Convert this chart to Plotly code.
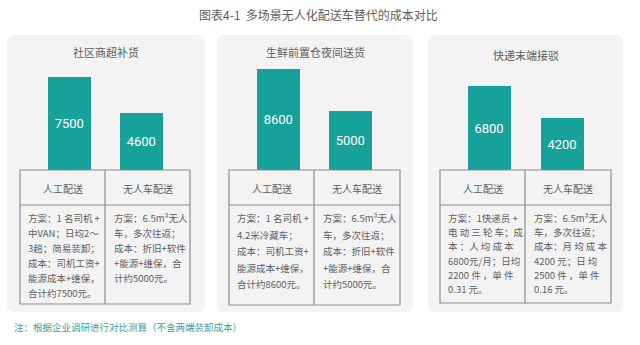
import plotly.graph_objects as go

W, H = 640, 345

# ---------------- data ----------------
title = "图表4-1  多场景无人化配送车替代的成本对比"
footnote = "注：根据企业调研进行对比测算（不含两端装卸成本）"
scenarios = ["社区商超补货", "生鲜前置仓夜间送货", "快递末端接驳"]
modes = ["人工配送", "无人车配送"]
manual_cost = [7500, 8600, 6800]
robot_cost = [4600, 5000, 4200]
manual_notes = [
    ["方案：1 名司机 +", "中VAN；日均2～", "3趟；简易装卸；", "成本：司机工资+", "能源成本+维保，", "合计约7500元。"],
    ["方案：1 名司机 +", "4.2米冷藏车；", "成本：司机工资+", "能源成本+维保，", "合计约8600元。"],
    ["方案：1快递员 +", "电 动 三 轮 车；成", "本 ：人 均 成 本", "6800元/月；日均", "2200 件 ，单 件", "0.31 元。"],
]
robot_notes = [
    ["方案：6.5m³无人", "车，多次往返；", "成本：折旧+软件", "+能源+维保，合", "计约5000元。"],
    ["方案：6.5m³无人", "车，多次往返；", "成本：折旧+软件", "+能源+维保，合", "计约5000元。"],
    ["方案：6.5m³无人", "车，多次往返；", "成本：月 均 成 本", "4200 元；日 均", "2500 件 ，单 件", "0.16 元。"],
]

# ---------------- layout geometry (pixels) ----------------
FONT = "Noto Sans CJK SC"
NUM_FONT = "Roboto"
BAR_COLOR = "#17a19b"
TEXT_COLOR = "#5e5e5e"
LINE_COLOR = "#8e8e8e"
PANEL_BG = "#f3f3f3"

panels = [(7, 205), (217, 413), (428, 623)]
panel_top, panel_bot = 35, 312
bar_centers = [(69, 141.5), (278, 350.5), (489, 562)]
y_max = [8871, 9366, 8905]
bar_base, plot_top = 170, 60
tables = [(20, 105, 190, 304), (229, 314, 400, 305), (440, 525, 611, 303)]
header_bot = 205
title_y = [52, 52, 55]
line_step = [14.9, 16.5, 14.2]
first_line = 218


def px(x):
    return x / W


def py(y):
    return 1 - y / H


def rounded(x0, y0, x1, y1, r):
    X0, X1 = px(x0), px(x1)
    Y0, Y1 = py(y0), py(y1)
    rx, ry = r / W, r / H
    return (f"M {X0+rx},{Y0} L {X1-rx},{Y0} Q {X1},{Y0} {X1},{Y0-ry} "
            f"L {X1},{Y1+ry} Q {X1},{Y1} {X1-rx},{Y1} L {X0+rx},{Y1} "
            f"Q {X0},{Y1} {X0},{Y1+ry} L {X0},{Y0-ry} Q {X0},{Y0} {X0+rx},{Y0} Z")


fig = go.Figure()
shapes, annotations = [], []
layout_axes = {}

for i in range(3):
    c0, c1 = bar_centers[i]
    half = (c1 - c0) / 2
    xa = "x" if i == 0 else f"x{i+1}"
    ya = "y" if i == 0 else f"y{i+1}"
    fig.add_trace(go.Bar(
        x=[0, 1], y=[manual_cost[i], robot_cost[i]],
        text=[str(manual_cost[i]), str(robot_cost[i])],
        textposition="inside", insidetextanchor="middle", textangle=0,
        textfont=dict(color="white", size=13, family=NUM_FONT),
        marker=dict(color=BAR_COLOR, line=dict(width=0)),
        width=43 / (c1 - c0), xaxis=xa, yaxis=ya, showlegend=False,
        hoverinfo="skip", cliponaxis=False,
    ))
    xk = "xaxis" if i == 0 else f"xaxis{i+1}"
    yk = "yaxis" if i == 0 else f"yaxis{i+1}"
    layout_axes[xk] = dict(domain=[px(c0 - half), px(c1 + half)], range=[-0.5, 1.5],
                           visible=False, fixedrange=True, anchor=ya)
    layout_axes[yk] = dict(domain=[py(bar_base), py(plot_top)], range=[0, y_max[i]],
                           visible=False, fixedrange=True, anchor=xa)

    # panel background
    x0, x1 = panels[i]
    shapes.append(dict(type="path", path=rounded(x0, panel_top, x1, panel_bot, 8),
                       xref="paper", yref="paper", fillcolor=PANEL_BG,
                       line=dict(width=0), layer="below"))
    # panel title
    annotations.append(dict(text=scenarios[i], x=px((x0 + x1) / 2), y=py(title_y[i]),
                            xref="paper", yref="paper", showarrow=False,
                            xanchor="center", yanchor="middle",
                            font=dict(size=11, color=TEXT_COLOR, family=FONT)))
    # table
    tl, tm, tr, tb = tables[i]
    lw = dict(color=LINE_COLOR, width=1.2)
    shapes.append(dict(type="rect", x0=px(tl), x1=px(tr), y0=py(bar_base), y1=py(tb),
                       xref="paper", yref="paper", line=lw, layer="above"))
    shapes.append(dict(type="line", x0=px(tm), x1=px(tm), y0=py(bar_base), y1=py(tb),
                       xref="paper", yref="paper", line=lw))
    shapes.append(dict(type="line", x0=px(tl), x1=px(tr), y0=py(header_bot), y1=py(header_bot),
                       xref="paper", yref="paper", line=lw))
    for cx, m in [((tl + tm) / 2, modes[0]), ((tm + tr) / 2, modes[1])]:
        annotations.append(dict(text=m, x=px(cx), y=py((bar_base + header_bot) / 2 + 1),
                                xref="paper", yref="paper", showarrow=False,
                                xanchor="center", yanchor="middle",
                                font=dict(size=10, color=TEXT_COLOR, family=FONT)))
    for left, lines in [(tl + 6, manual_notes[i]), (tm + 7, robot_notes[i])]:
        for k, ln in enumerate(lines):
            annotations.append(dict(text=ln, x=px(left), y=py(first_line + k * line_step[i]),
                                    xref="paper", yref="paper", showarrow=False,
                                    xanchor="left", yanchor="middle",
                                    font=dict(size=9.5, color=TEXT_COLOR, family=FONT)))

annotations.append(dict(text=title, x=px(318), y=py(15), xref="paper", yref="paper",
                        showarrow=False, xanchor="center", yanchor="middle",
                        font=dict(size=12, color=TEXT_COLOR, family=FONT)))
annotations.append(dict(text=footnote, x=px(12), y=py(327), xref="paper", yref="paper",
                        showarrow=False, xanchor="left", yanchor="middle",
                        font=dict(size=9.5, color="#3a9fa0", family=FONT)))

fig.update_layout(
    width=W, height=H, margin=dict(l=0, r=0, t=0, b=0),
    paper_bgcolor="white", plot_bgcolor="rgba(0,0,0,0)",
    shapes=shapes, annotations=annotations, bargap=0,
    font=dict(family=FONT), **layout_axes,
)

fig.write_html("out.html")
